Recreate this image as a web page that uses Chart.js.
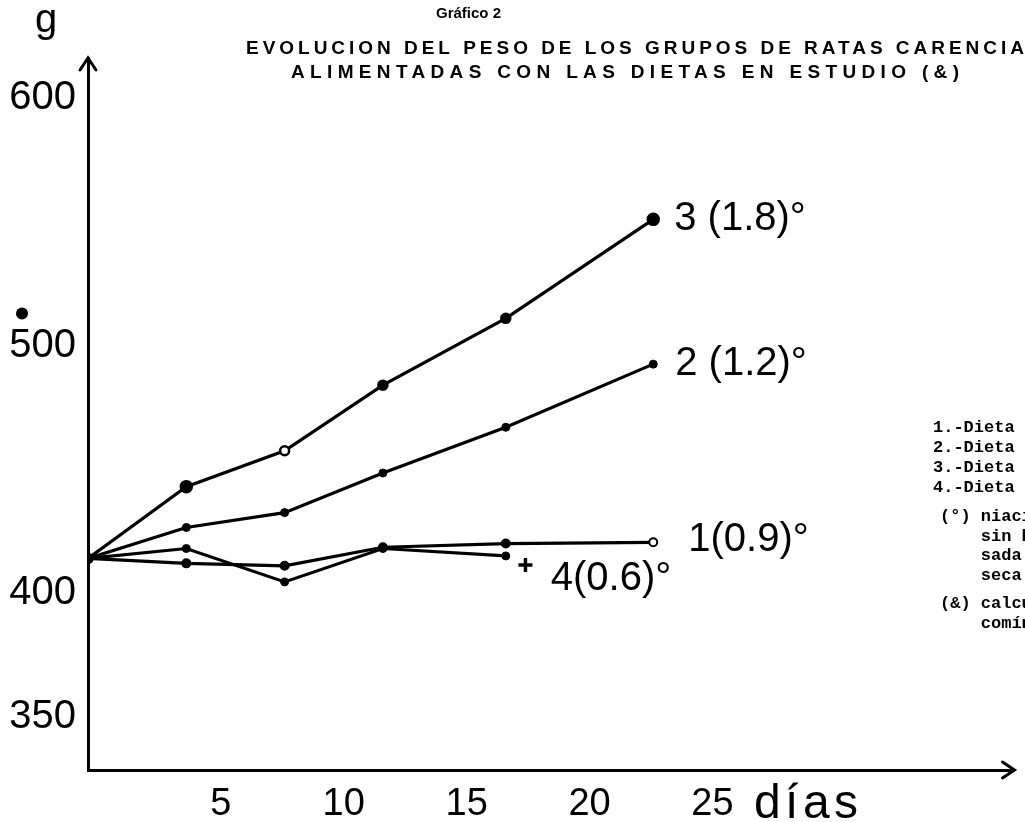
<!DOCTYPE html>
<html>
<head>
<meta charset="utf-8">
<script src="https://cdn.jsdelivr.net/npm/chart.js@4.4.1/dist/chart.umd.min.js"></script>
<style>
  html, body { margin: 0; padding: 0; background: #fff; }
  #wrap { width: 1025px; height: 822px; position: relative; }
</style>
</head>
<body>
<div id="wrap"><canvas id="pesoChart"></canvas></div>
<script>
// días de control
const dias = [0, 4, 8, 12, 17, 23];
const dias4 = [0, 4, 8, 12, 17];

// peso medio de cada grupo (g)
const dieta1 = [414, 412, 411, 418.5, 420, 420.5];
const dieta2 = [414, 426.5, 432.5, 448.5, 467, 492.5];
const dieta3 = [414, 443, 457.5, 484, 511, 551];
const dieta4 = [414, 418, 404.5, 418, 415];
const marcaMas = [{ x: 17.8, y: 411.3 }];

const etiquetasSerie = ['1(0.9)°', '2 (1.2)°', '3 (1.8)°', '4(0.6)°'];
const ticksX = [5, 10, 15, 20, 25];
const ticksY = [350, 400, 500, 600];

const titulo = 'Gráfico 2';
const tituloLineas = [
  'EVOLUCION DEL PESO DE LOS GRUPOS DE RATAS CARENCIA',
  'ALIMENTADAS CON LAS DIETAS EN ESTUDIO (&)'
];
const notas = ['1.-Dieta', '2.-Dieta', '3.-Dieta', '4.-Dieta'];
const notasNiacina = ['(°) niaci', '    sin h', '    sada', '    seca'];
const notasCalculo = ['(&) calcu', '    comín'];

function puntos(xs, ys) {
  return ys.map((v, i) => ({ x: xs[i], y: v }));
}

// texto con espaciado para ocupar un ancho dado
function textoEspaciado(ctx, texto, x, y, ancho) {
  ctx.letterSpacing = '0px';
  const w = ctx.measureText(texto).width;
  const esp = (ancho - w) / (texto.length - 1);
  ctx.letterSpacing = esp + 'px';
  ctx.fillText(texto, x, y);
  ctx.letterSpacing = '0px';
}

const decoracion = {
  id: 'decoracion',
  afterDraw(chart) {
    const { ctx, chartArea } = chart;
    const y = chart.scales.y;
    ctx.save();
    ctx.fillStyle = '#000';
    ctx.strokeStyle = '#000';

    // flechas de los ejes
    ctx.lineWidth = 3;
    ctx.lineCap = 'round';
    ctx.beginPath();
    ctx.moveTo(chartArea.left - 8, chartArea.top + 12);
    ctx.lineTo(chartArea.left, chartArea.top);
    ctx.lineTo(chartArea.left + 8, chartArea.top + 12);
    ctx.moveTo(chartArea.right - 12, chartArea.bottom - 8);
    ctx.lineTo(chartArea.right, chartArea.bottom);
    ctx.lineTo(chartArea.right - 12, chartArea.bottom + 8);
    ctx.stroke();

    // unidad del eje y
    ctx.font = '40px "Liberation Sans", Arial, sans-serif';
    ctx.textAlign = 'center';
    ctx.textBaseline = 'alphabetic';
    ctx.fillText('g', 46, 32);
    ctx.beginPath();
    ctx.arc(22, y.getPixelForValue(513), 6, 0, Math.PI * 2);
    ctx.fill();

    // unidad del eje x
    ctx.font = '48px "Liberation Sans", Arial, sans-serif';
    ctx.textAlign = 'left';
    textoEspaciado(ctx, 'días', 754, 818, 104);

    // títulos
    ctx.textAlign = 'left';
    ctx.font = 'bold 15px "Liberation Sans", Arial, sans-serif';
    ctx.fillText(titulo, 436, 18);
    ctx.font = 'bold 19px "Liberation Sans", Arial, sans-serif';
    textoEspaciado(ctx, tituloLineas[0], 246, 54, 778);
    textoEspaciado(ctx, tituloLineas[1], 291, 78, 668);

    // etiquetas de las series
    ctx.font = '40px "Liberation Sans", Arial, sans-serif';
    ctx.textBaseline = 'middle';
    const desp = [[35, -2], [22, 0], [21, 0], [45, 23]];
    chart.data.datasets.slice(0, 4).forEach((ds, i) => {
      const pts = chart.getDatasetMeta(i).data;
      const p = pts[pts.length - 1];
      ctx.fillText(etiquetasSerie[i], p.x + desp[i][0], p.y + desp[i][1]);
    });

    // notas al margen
    ctx.font = 'bold 17px "Liberation Mono", "DejaVu Sans Mono", monospace';
    ctx.textBaseline = 'middle';
    notas.forEach((t, i) => ctx.fillText(t, 933, 428 + i * 20));
    notasNiacina.forEach((t, i) => ctx.fillText(t, 940, 517 + i * 19.5));
    notasCalculo.forEach((t, i) => ctx.fillText(t, 940, 604 + i * 19.5));
    ctx.restore();
  }
};

const linea = { borderColor: '#000', borderWidth: 3.2, pointBorderColor: '#000', tension: 0, fill: false };

new Chart(document.getElementById('pesoChart'), {
  type: 'line',
  data: {
    datasets: [
      {
        label: 'Dieta 1', data: puntos(dias, dieta1), ...linea,
        pointRadius: 4, pointBorderWidth: 2,
        pointBackgroundColor: c => (c.dataIndex === 5 ? '#fff' : '#000')
      },
      {
        label: 'Dieta 2', data: puntos(dias, dieta2), ...linea,
        pointRadius: 4, pointBorderWidth: 1, pointBackgroundColor: '#000'
      },
      {
        label: 'Dieta 3', data: puntos(dias, dieta3), ...linea,
        pointRadius: c => (c.dataIndex === 1 || c.dataIndex === 5 ? 5.5 : 4.5),
        pointBorderWidth: 2.5,
        pointBackgroundColor: c => (c.dataIndex === 2 ? '#fff' : '#000')
      },
      {
        label: 'Dieta 4', data: puntos(dias4, dieta4), ...linea,
        pointRadius: 4, pointBorderWidth: 1, pointBackgroundColor: '#000'
      },
      {
        label: '+', data: marcaMas, showLine: false,
        pointStyle: 'cross', pointRadius: 7, pointBorderWidth: 3.5,
        pointBorderColor: '#000'
      }
    ]
  },
  options: {
    responsive: true,
    maintainAspectRatio: false,
    animation: false,
    layout: { padding: { top: 58, right: 5, bottom: 0, left: 0 } },
    plugins: {
      legend: { display: false },
      tooltip: { enabled: false }
    },
    scales: {
      x: {
        type: 'linear',
        min: 0,
        max: 37.7,
        grid: { display: false },
        border: { display: true, color: '#000', width: 3 },
        afterBuildTicks: s => { s.ticks = ticksX.map(v => ({ value: v })); },
        afterFit: s => { s.height = 52; },
        ticks: {
          color: '#000',
          padding: 4,
          labelOffset: 10,
          maxRotation: 0,
          font: { family: '"Liberation Sans", Arial, sans-serif', size: 38 }
        }
      },
      y: {
        min: 328.5,
        max: 616.2,
        grid: { display: false },
        border: { display: true, color: '#000', width: 3 },
        afterBuildTicks: s => { s.ticks = ticksY.map(v => ({ value: v })); },
        afterFit: s => { s.width = 88; },
        ticks: {
          color: '#000',
          padding: 4,
          font: { family: '"Liberation Sans", Arial, sans-serif', size: 40 }
        }
      }
    }
  },
  plugins: [decoracion]
});
</script>
</body>
</html>
